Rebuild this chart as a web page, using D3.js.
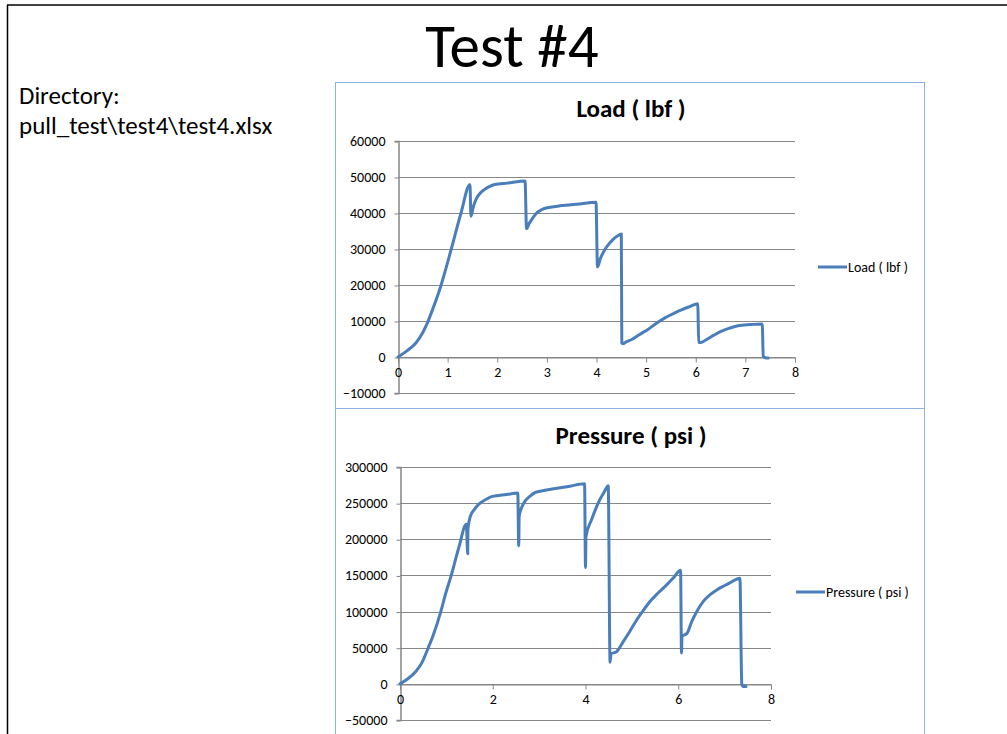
<!DOCTYPE html>
<html>
<head>
<meta charset="utf-8">
<script src="https://cdn.jsdelivr.net/npm/d3@7/dist/d3.min.js"></script>
<style>
  html, body { margin: 0; padding: 0; background: #fff; }
  svg { display: block; }
  text { font-family: Carlito, Calibri, Lato, "Open Sans", sans-serif; }
</style>
</head>
<body>
<svg id="slide" width="1007" height="734"></svg>
<script>
// Test #4 pull test recordings: time (s) vs load and pressure
const loadTime = [0, 0.18, 0.36, 0.5, 0.59, 0.7, 0.86, 1.07, 1.27, 1.45, 1.47, 1.52, 1.57, 1.65, 1.74, 1.85, 1.95, 2.2, 2.56,
  2.59, 2.64, 2.69, 2.78, 2.89, 3.06, 3.22, 3.6, 3.99,
  4.02, 4.08, 4.15, 4.24, 4.33, 4.42, 4.5,
  4.51, 4.53, 4.6, 4.7, 4.86, 5.03, 5.2, 5.37, 5.54, 5.71, 5.88, 6.04,
  6.06, 6.1, 6.21, 6.36, 6.51, 6.68, 6.85, 7.1, 7.34,
  7.36, 7.4, 7.46];
const loadValue = [0, 1700, 3900, 6800, 9400, 13300, 19600, 29800, 40000, 47900, 39100, 41800, 43700, 45400, 46500, 47400, 47900, 48300, 48900,
  35600, 37000, 38100, 39800, 40900, 41600, 41900, 42400, 43000,
  25000, 27400, 29400, 31200, 32600, 33600, 34200,
  3900, 3700, 4200, 4800, 6200, 7600, 9300, 10800, 12000, 13100, 14000, 14800,
  4100, 4000, 4800, 6000, 7100, 8000, 8700, 9000, 9200,
  200, -200, -300];

const pressureTime = [0, 0.17, 0.34, 0.47, 0.61, 0.72, 0.88, 0.98, 1.1, 1.27, 1.43,
  1.46, 1.465, 1.52, 1.6, 1.7, 1.85, 1.99, 2.3, 2.54,
  2.56, 2.57, 2.63, 2.7, 2.8, 2.92, 3.1, 3.35, 3.66, 3.98,
  4.0, 4.01, 4.13, 4.22, 4.31, 4.4, 4.49,
  4.53, 4.55, 4.66, 4.81, 4.95, 5.1, 5.25, 5.39, 5.57, 5.75, 5.9, 6.05,
  6.07, 6.08, 6.19, 6.29, 6.4, 6.54, 6.68, 6.83, 7.0, 7.12, 7.33,
  7.37, 7.4, 7.46];
const pressureValue = [0, 7000, 17100, 29000, 50000, 68000, 100000, 124000, 149000, 189000, 220800,
  180000, 214000, 232400, 241000, 248600, 255000, 259300, 262000, 263900,
  191000, 232000, 245000, 253200, 259500, 264800, 267500, 270400, 273500, 277000,
  161000, 204000, 227000, 242000, 255000, 265000, 274000,
  30000, 41700, 44000, 58000, 72000, 88000, 102000, 114000, 126000, 137000, 147000, 157000,
  42600, 65700, 70000, 86000, 100000, 114000, 123000, 130000, 136000, 140000, 146000,
  0, -3700, -3700];

const loadYTicks = [-10000, 0, 10000, 20000, 30000, 40000, 50000, 60000];
const loadXTicks = [0, 1, 2, 3, 4, 5, 6, 7, 8];
const pressureYTicks = [-50000, 0, 50000, 100000, 150000, 200000, 250000, 300000];
const pressureXTicks = [0, 2, 4, 6, 8];

const svg = d3.select("#slide");
const LINE = "#4a7ebb";
const GRID = "#878787";
const FRAME = "#8db3e2";
const TICK_FONT = 14;

// slide frame
svg.append("line").attr("x1", 7).attr("x2", 1007).attr("y1", 5).attr("y2", 5)
  .attr("stroke", "#000").attr("stroke-width", 1.5);
svg.append("line").attr("x1", 7.5).attr("x2", 7.5).attr("y1", 5).attr("y2", 734)
  .attr("stroke", "#000").attr("stroke-width", 1.5);

svg.append("text").attr("x", 512).attr("y", 67).attr("text-anchor", "middle")
  .attr("font-size", 61).attr("fill", "#000").text("Test #4");

svg.append("text").attr("x", 19).attr("y", 104).attr("font-size", 25).attr("fill", "#000").text("Directory:");
svg.append("text").attr("x", 19).attr("y", 134).attr("font-size", 25).attr("fill", "#000").text("pull_test\\test4\\test4.xlsx");

function drawChart(cfg) {
  const g = svg.append("g");
  g.append("rect").attr("x", cfg.box[0] + 0.5).attr("y", cfg.box[1] + 0.5)
    .attr("width", cfg.box[2]).attr("height", cfg.box[3])
    .attr("fill", "#fff").attr("stroke", FRAME).attr("stroke-width", 1);

  const x = d3.scaleLinear().domain([0, 8]).range(cfg.xRange);
  const y = d3.scaleLinear().domain(d3.extent(cfg.yTicks)).range(cfg.yRange);

  g.append("text").attr("x", cfg.titleX).attr("y", cfg.titleY).attr("text-anchor", "middle")
    .attr("font-size", 25).attr("font-weight", "bold").attr("fill", "#000").text(cfg.title);

  // horizontal gridlines
  g.append("g").selectAll("line").data(cfg.yTicks).join("line")
    .attr("x1", x(0)).attr("x2", x(8))
    .attr("y1", d => Math.round(y(d)) + 0.5).attr("y2", d => Math.round(y(d)) + 0.5)
    .attr("stroke", GRID).attr("stroke-width", 1);

  // value axis
  const yAxis = g.append("g").attr("transform", `translate(${Math.round(x(0)) + 0.5},0)`)
    .call(d3.axisLeft(y).tickValues(cfg.yTicks).tickSize(4).tickPadding(9).tickFormat(d3.format("d")));
  yAxis.select(".domain").attr("stroke", GRID).attr("stroke-width", 1.5);
  yAxis.selectAll(".tick line").attr("stroke", GRID).attr("transform", "translate(0,0.5)");
  yAxis.selectAll("text").attr("font-size", TICK_FONT).attr("fill", "#000")
    .attr("font-family", "Carlito, Calibri, Lato, sans-serif");

  // category axis crossing at zero
  const xAxis = g.append("g").attr("transform", `translate(0,${Math.round(y(0)) + 0.5})`)
    .call(d3.axisBottom(x).tickValues(cfg.xTicks).tickSize(5).tickPadding(5).tickFormat(d3.format("d")));
  xAxis.select(".domain").attr("stroke", GRID).attr("stroke-width", 1);
  xAxis.selectAll(".tick line").attr("stroke", GRID);
  xAxis.selectAll("text").attr("font-size", TICK_FONT).attr("fill", "#000")
    .attr("font-family", "Carlito, Calibri, Lato, sans-serif");

  const pts = cfg.t.map((t, i) => [t, cfg.v[i]]);
  g.append("path").datum(pts)
    .attr("d", d3.line().x(d => x(d[0])).y(d => y(d[1])).curve(d3.curveMonotoneX))
    .attr("fill", "none").attr("stroke", LINE).attr("stroke-width", 3)
    .attr("stroke-linejoin", "round").attr("stroke-linecap", "round");

  // legend
  g.append("line").attr("x1", cfg.legend[0]).attr("x2", cfg.legend[0] + 29)
    .attr("y1", cfg.legend[1]).attr("y2", cfg.legend[1])
    .attr("stroke", LINE).attr("stroke-width", 3);
  g.append("text").attr("x", cfg.legend[0] + 30).attr("y", cfg.legend[1] + 5)
    .attr("font-size", 14).attr("fill", "#000").text(cfg.title);
}

drawChart({
  title: "Load ( lbf )", titleX: 631, titleY: 117,
  box: [335, 82, 589, 326],
  xRange: [398, 795], yRange: [393, 141],
  yTicks: loadYTicks, xTicks: loadXTicks,
  t: loadTime, v: loadValue,
  legend: [818, 267]
});

drawChart({
  title: "Pressure ( psi )", titleX: 631, titleY: 444,
  box: [335, 408, 589, 340],
  xRange: [400, 771], yRange: [720, 467],
  yTicks: pressureYTicks, xTicks: pressureXTicks,
  t: pressureTime, v: pressureValue,
  legend: [796, 592]
});
</script>
</body>
</html>
